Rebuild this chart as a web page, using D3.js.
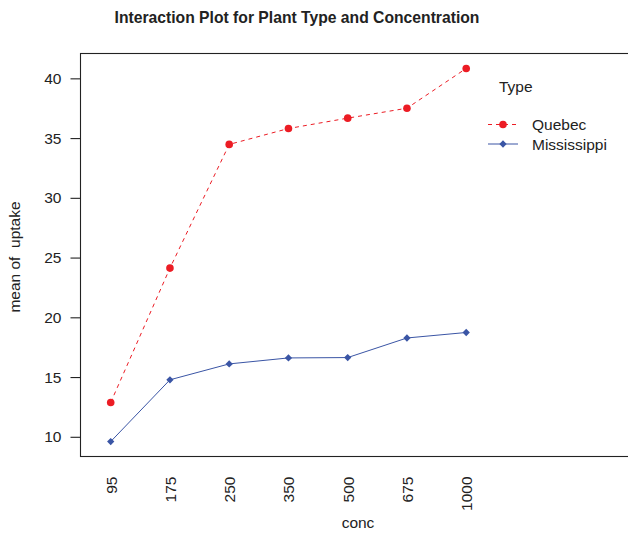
<!DOCTYPE html>
<html>
<head>
<meta charset="utf-8">
<script src="https://cdn.jsdelivr.net/npm/d3@7"></script>
<style>
  html, body { margin: 0; padding: 0; background: #fff; }
  svg { display: block; font-family: "Liberation Sans", Arial, Helvetica, sans-serif; }
</style>
</head>
<body>
<svg id="chart" width="628" height="534"></svg>
<script>
// Mean CO2 uptake by ambient concentration, per plant type
const concLevels = ["95", "175", "250", "350", "500", "675", "1000"];
const quebec = [12.87, 24.12, 34.47, 35.80, 36.67, 37.50, 40.83];
const mississippi = [9.60, 14.77, 16.10, 16.60, 16.63, 18.27, 18.73];
const yTicks = [10, 15, 20, 25, 30, 35, 40];
const seriesNames = ["Quebec", "Mississippi"];

const svg = d3.select("#chart");
const box = { left: 80.5, top: 53.5, right: 640, bottom: 456.5 };

// y range padded 4% like the classic base-graphics default
const allVals = quebec.concat(mississippi);
const yMin = d3.min(allVals), yMax = d3.max(allVals);
const pad = (yMax - yMin) * 0.04;
const y = d3.scaleLinear().domain([yMin - pad, yMax + pad]).range([box.bottom, box.top]);
const x = d3.scalePoint().domain(concLevels).range([110.7, 466.2]);

const ink = "#222";
const red = "#ec1c24";
const blue = "#3a55a5";

// Title
svg.append("text")
  .attr("x", 297).attr("y", 22.5)
  .attr("text-anchor", "middle")
  .attr("font-size", 15.7).attr("font-weight", "bold").attr("fill", ink)
  .text("Interaction Plot for Plant Type and Concentration");

// Plot frame
svg.append("rect")
  .attr("x", box.left).attr("y", box.top)
  .attr("width", box.right - box.left).attr("height", box.bottom - box.top)
  .attr("fill", "none").attr("stroke", ink).attr("stroke-width", 1.1);

// Y axis
const yAxis = d3.axisLeft(y).tickValues(yTicks).tickSize(10).tickPadding(9).tickFormat(d3.format("d"));
const gy = svg.append("g").attr("transform", `translate(${box.left},0)`).call(yAxis);
gy.select(".domain").remove();
gy.selectAll(".tick line").attr("stroke", ink).attr("stroke-width", 1.1);
gy.selectAll(".tick text").attr("font-size", 15.5).attr("fill", ink)
  .attr("font-family", "Liberation Sans, Arial, sans-serif");

// X axis labels (perpendicular, no tick marks)
const xAxis = d3.axisBottom(x).tickSize(0).tickPadding(0);
const gx = svg.append("g").attr("transform", `translate(0,${box.bottom})`).call(xAxis);
gx.select(".domain").remove();
gx.selectAll(".tick text")
  .attr("font-size", 15.5).attr("fill", ink)
  .attr("font-family", "Liberation Sans, Arial, sans-serif")
  .attr("transform", "rotate(-90)")
  .attr("text-anchor", "end")
  .attr("dy", "0.35em")
  .attr("x", -20).attr("y", 0);

// Axis titles
svg.append("text")
  .attr("x", 358).attr("y", 528)
  .attr("text-anchor", "middle").attr("font-size", 15.5).attr("fill", ink)
  .text("conc");
svg.append("text")
  .attr("transform", `translate(20,${(box.top + box.bottom) / 2 + 2}) rotate(-90)`)
  .attr("text-anchor", "middle").attr("font-size", 15.5).attr("fill", ink)
  .attr("xml:space", "preserve")
  .style("white-space", "pre")
  .text("mean of  uptake");

// Lines
const line = d3.line().x((d, i) => x(concLevels[i])).y(d => y(d));

svg.append("path").datum(quebec)
  .attr("d", line).attr("fill", "none")
  .attr("stroke", red).attr("stroke-width", 1).attr("stroke-dasharray", "4,4");
svg.append("path").datum(mississippi)
  .attr("d", line).attr("fill", "none")
  .attr("stroke", blue).attr("stroke-width", 1);

// Points
svg.append("g").selectAll("circle").data(quebec).join("circle")
  .attr("cx", (d, i) => x(concLevels[i])).attr("cy", d => y(d))
  .attr("r", 3.8).attr("fill", red);

const diamond = d3.symbol().type(d3.symbolDiamond2).size(34);
svg.append("g").selectAll("path").data(mississippi).join("path")
  .attr("transform", (d, i) => `translate(${x(concLevels[i])},${y(d)})`)
  .attr("d", diamond).attr("fill", blue);

// Legend
const leg = svg.append("g");
leg.append("text").attr("x", 499).attr("y", 92)
  .attr("font-size", 15.5).attr("fill", ink).text("Type");

const legRows = [
  { name: seriesNames[0], color: red, dash: "4,4", y: 124.5, mark: "circle" },
  { name: seriesNames[1], color: blue, dash: null, y: 144, mark: "diamond" }
];
legRows.forEach(r => {
  leg.append("line")
    .attr("x1", 488).attr("x2", 518).attr("y1", r.y).attr("y2", r.y)
    .attr("stroke", r.color).attr("stroke-width", 1)
    .attr("stroke-dasharray", r.dash);
  if (r.mark === "circle") {
    leg.append("circle").attr("cx", 503).attr("cy", r.y).attr("r", 3.8).attr("fill", r.color);
  } else {
    leg.append("path").attr("transform", `translate(503,${r.y})`).attr("d", diamond).attr("fill", r.color);
  }
  leg.append("text").attr("x", 532).attr("y", r.y + 5.5)
    .attr("font-size", 15.5).attr("fill", ink).text(r.name);
});
</script>
</body>
</html>
